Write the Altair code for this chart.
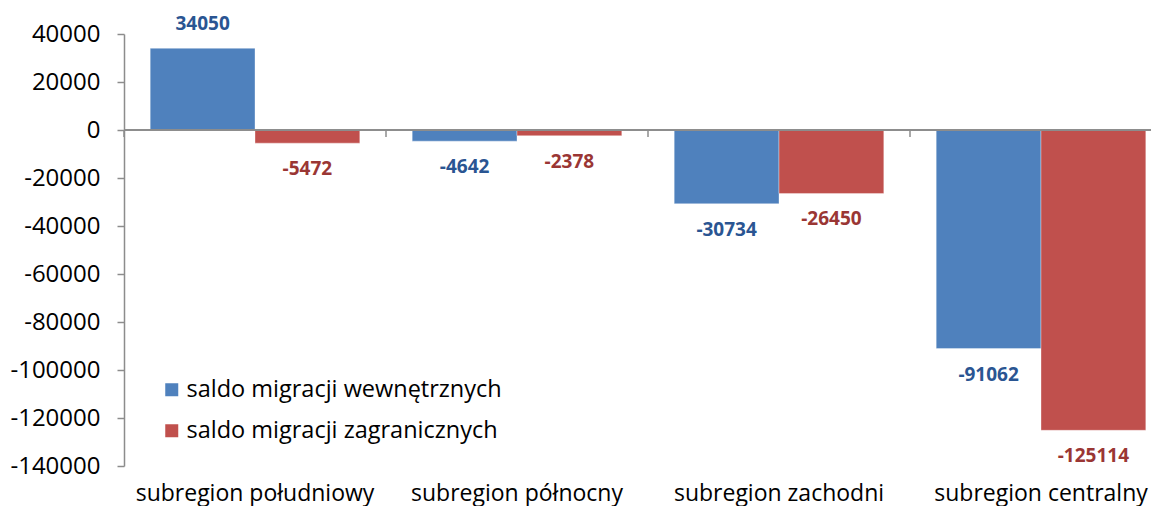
import altair as alt
import pandas as pd

categories = ["subregion południowy", "subregion północny", "subregion zachodni", "subregion centralny"]
series_names = ["saldo migracji wewnętrznych", "saldo migracji zagranicznych"]
internal = [34050, -4642, -30734, -91062]
foreign = [-5472, -2378, -26450, -125114]
y_ticks = [40000, 20000, 0, -20000, -40000, -60000, -80000, -100000, -120000, -140000]

bar_colors = ["#4F81BD", "#C0504D"]
label_colors = ["#2A5592", "#9A3634"]
FONT = "Open Sans"
AXIS_GREY = "#8C8C8C"

rows = []
for c, a, b in zip(categories, internal, foreign):
    rows.append({"cat": c, "series": series_names[0], "value": a, "label": str(a)})
    rows.append({"cat": c, "series": series_names[1], "value": b, "label": str(b)})
df = pd.DataFrame(rows)
cat_df = pd.DataFrame({"cat": categories})

x_enc = alt.X(
    "cat:N", sort=categories, title=None,
    scale=alt.Scale(range=[0, 1048], paddingInner=0.2, paddingOuter=0.1),
    axis=alt.Axis(orient="bottom", domain=False, ticks=False,
                  labelPadding=27, labelBaseline="middle", labelFont=FONT, labelFontSize=23,
                  labelColor="#000000", labelAngle=0, labelLimit=400),
)
xoff = alt.XOffset("series:N", sort=series_names, scale=alt.Scale(paddingInner=0, paddingOuter=0))
y_enc = alt.Y(
    "value:Q", title=None,
    scale=alt.Scale(domain=[-140000, 40000], nice=False, zero=False),
    axis=alt.Axis(values=y_ticks, grid=False, domainColor=AXIS_GREY, domainWidth=1.5,
                  tickColor=AXIS_GREY, tickWidth=1.5, tickSize=7, labelPadding=17,
                  labelFont=FONT, labelFontSize=24, labelColor="#000000",
                  labelExpr="'' + datum.value"),
)

base = alt.Chart(df)

bars = base.mark_bar(stroke="#FFFFFF", strokeOpacity=0.35, strokeWidth=1).encode(
    x=x_enc, xOffset=xoff, y=y_enc,
    color=alt.Color("series:N", sort=series_names,
                    scale=alt.Scale(domain=series_names, range=bar_colors),
                    legend=alt.Legend(orient="none", legendX=36, legendY=344, title=None,
                                      symbolType="square", symbolSize=169, symbolStrokeWidth=0,
                                      labelFont=FONT, labelFontSize=23.5, labelColor="#000000",
                                      labelLimit=500, rowPadding=16, padding=0, labelOffset=3)),
)

text_color = alt.condition(alt.datum.series == series_names[0],
                           alt.value(label_colors[0]), alt.value(label_colors[1]))

pos_labels = base.mark_text(font=FONT, fontSize=19, fontWeight="bold", baseline="middle", dy=-24).encode(
    x=alt.X("cat:N", sort=categories), xOffset=alt.XOffset("series:N", sort=series_names),
    y="value:Q", text="label:N", color=text_color,
).transform_filter("datum.value >= 0")

neg_labels = base.mark_text(font=FONT, fontSize=19, fontWeight="bold", baseline="middle", dy=26).encode(
    x=alt.X("cat:N", sort=categories), xOffset=alt.XOffset("series:N", sort=series_names),
    y="value:Q", text="label:N", color=text_color,
).transform_filter("datum.value < 0")

zero_line = alt.Chart(cat_df).mark_rule(color=AXIS_GREY, strokeWidth=1.5).encode(
    y=alt.datum(0)
)

main = alt.layer(bars, pos_labels, neg_labels, zero_line)

cat_ticks = alt.Chart(cat_df).mark_rule(color=AXIS_GREY, strokeWidth=1.5).encode(
    x=alt.X("cat:N", sort=categories, bandPosition=0,
            scale=alt.Scale(range=[0, 1048], paddingInner=0, paddingOuter=0), axis=None),
    y=alt.datum(0), y2=alt.datum(-2900),
)

chart = alt.layer(main, cat_ticks).resolve_scale(x="independent").properties(
    width=1027, height=432,
    autosize=alt.AutoSizeParams(type="none"),
    padding={"left": 116, "top": 26, "right": 0, "bottom": 40},
).configure_view(stroke=None)

chart.save("out.html", embed_options={"renderer": "svg", "actions": False})
